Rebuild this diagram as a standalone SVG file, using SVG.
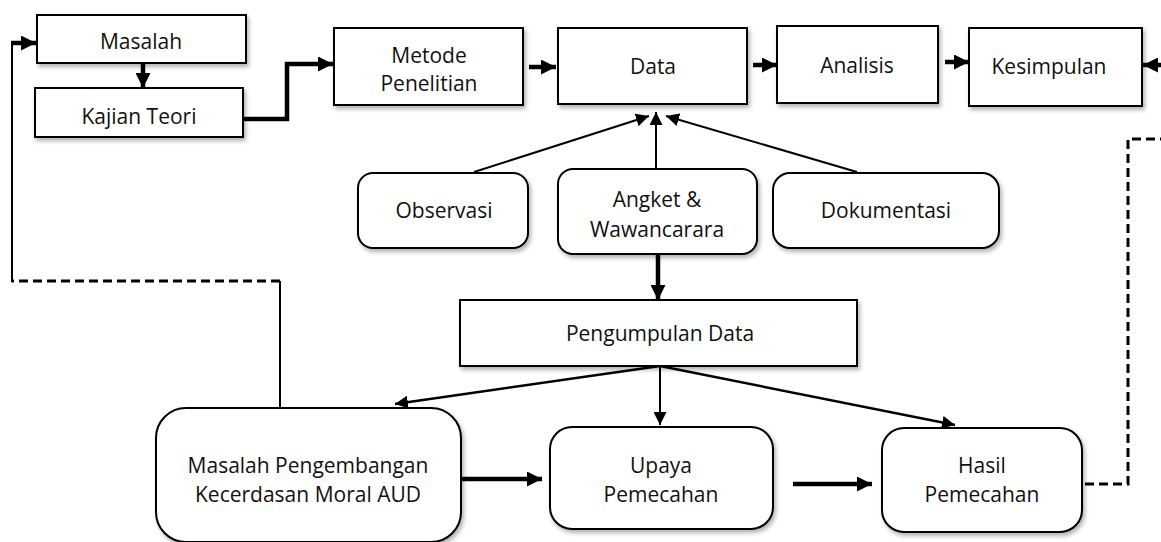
<svg xmlns="http://www.w3.org/2000/svg" width="1161" height="542" viewBox="0 0 1161 542">
<style>
  .box{fill:#fff;stroke:#000;stroke-width:2;filter:url(#sh);}
  .lbl{font-family:"Open Sans","Noto Sans",sans-serif;font-size:21px;fill:#111;text-anchor:middle;}
  .thin{fill:none;stroke:#000;stroke-width:2;marker-end:url(#ah);}
  .thick{fill:none;stroke:#000;stroke-width:4.5;marker-end:url(#ahb);}
  .dash{fill:none;stroke:#000;stroke-width:3;stroke-dasharray:9 5;}
  .plain{fill:none;stroke:#000;stroke-width:2;}
</style>
<defs>
  <filter id="sh" x="-10%" y="-10%" width="130%" height="140%">
    <feDropShadow dx="2" dy="3" stdDeviation="2" flood-color="#000" flood-opacity="0.3"/>
  </filter>
  <marker id="ah" markerUnits="userSpaceOnUse" markerWidth="13" markerHeight="13" refX="13" refY="6.5" orient="auto">
    <path d="M0,0 L13,6.5 L0,13 z" fill="#000"/>
  </marker>
  <marker id="ahb" markerUnits="userSpaceOnUse" markerWidth="15" markerHeight="15" refX="15" refY="7.5" orient="auto">
    <path d="M0,0 L15,7.5 L0,15 z" fill="#000"/>
  </marker>
</defs>
<rect width="1161" height="542" fill="#fff"/>

<g id="connectors">
  <line class="thick" x1="143" y1="63" x2="143" y2="88"/>
  <polyline class="thick" points="243,119 287,119 287,64 333,64"/>
  <line class="thick" x1="529" y1="67" x2="556" y2="67"/>
  <line class="thick" x1="753" y1="65" x2="777" y2="65"/>
  <line class="thick" x1="945" y1="62" x2="969" y2="62"/>
  <line class="thick" x1="1161" y1="65" x2="1143" y2="65"/>
  <line class="thin" x1="474" y1="172" x2="649" y2="116"/>
  <line class="thin" x1="656" y1="169" x2="656" y2="112"/>
  <line class="thin" x1="857" y1="172" x2="666" y2="116"/>
  <line class="thick" x1="658" y1="254" x2="658" y2="300"/>
  <line class="thin" x1="660" y1="366" x2="395" y2="404" style="stroke-width:2.5"/>
  <line class="thin" x1="660" y1="366" x2="660" y2="425"/>
  <line class="thin" x1="660" y1="366" x2="955" y2="425" style="stroke-width:2.5"/>
  <line class="thick" x1="461" y1="479" x2="542" y2="479"/>
  <line class="thick" x1="793" y1="484" x2="872" y2="484"/>
  <polyline class="dash" points="1085,484 1128,484 1128,139 1161,139"/>
  <line class="plain" x1="280" y1="408" x2="280" y2="281"/>
  <line class="dash" x1="280" y1="281" x2="12" y2="281"/>
  <line class="plain" x1="12" y1="282" x2="12" y2="43"/>
  <line class="thick" x1="11" y1="43" x2="36" y2="43"/>
</g>

<g id="masalah"><rect class="box" x="37" y="15" width="209" height="48"/><text class="lbl" x="141" y="49">Masalah</text></g>
<g id="kajian"><rect class="box" x="35" y="88" width="208" height="49"/><text class="lbl" x="139" y="124">Kajian Teori</text></g>
<g id="metode"><rect class="box" x="334" y="28" width="189" height="77"/><text class="lbl" x="429" y="63">Metode</text><text class="lbl" x="429" y="91">Penelitian</text></g>
<g id="data"><rect class="box" x="558" y="28" width="189" height="76"/><text class="lbl" x="653" y="74">Data</text></g>
<g id="analisis"><rect class="box" x="777" y="26" width="161" height="77"/><text class="lbl" x="857" y="73">Analisis</text></g>
<g id="kesimpulan"><rect class="box" x="969" y="28" width="173" height="78"/><text class="lbl" x="1049" y="74">Kesimpulan</text></g>
<g id="observasi"><rect class="box" x="358" y="173" width="170" height="75" rx="15"/><text class="lbl" x="444" y="218">Observasi</text></g>
<g id="angket"><rect class="box" x="558" y="169" width="199" height="85" rx="15"/><text class="lbl" x="657" y="207">Angket &amp;</text><text class="lbl" x="657" y="237">Wawancarara</text></g>
<g id="dokumentasi"><rect class="box" x="773" y="173" width="226" height="75" rx="17"/><text class="lbl" x="886" y="218">Dokumentasi</text></g>
<g id="pengumpulan"><rect class="box" x="460" y="300" width="397" height="66"/><text class="lbl" x="660" y="341">Pengumpulan Data</text></g>
<g id="masalah-pengembangan"><rect class="box" x="156" y="408" width="305" height="134" rx="30"/><text class="lbl" x="308" y="473">Masalah Pengembangan</text><text class="lbl" x="308" y="502">Kecerdasan Moral AUD</text></g>
<g id="upaya"><rect class="box" x="550" y="427" width="223" height="102" rx="22"/><text class="lbl" x="661" y="473">Upaya</text><text class="lbl" x="661" y="502">Pemecahan</text></g>
<g id="hasil"><rect class="box" x="882" y="428" width="200" height="104" rx="22"/><text class="lbl" x="982" y="473">Hasil</text><text class="lbl" x="982" y="502">Pemecahan</text></g>
</svg>
